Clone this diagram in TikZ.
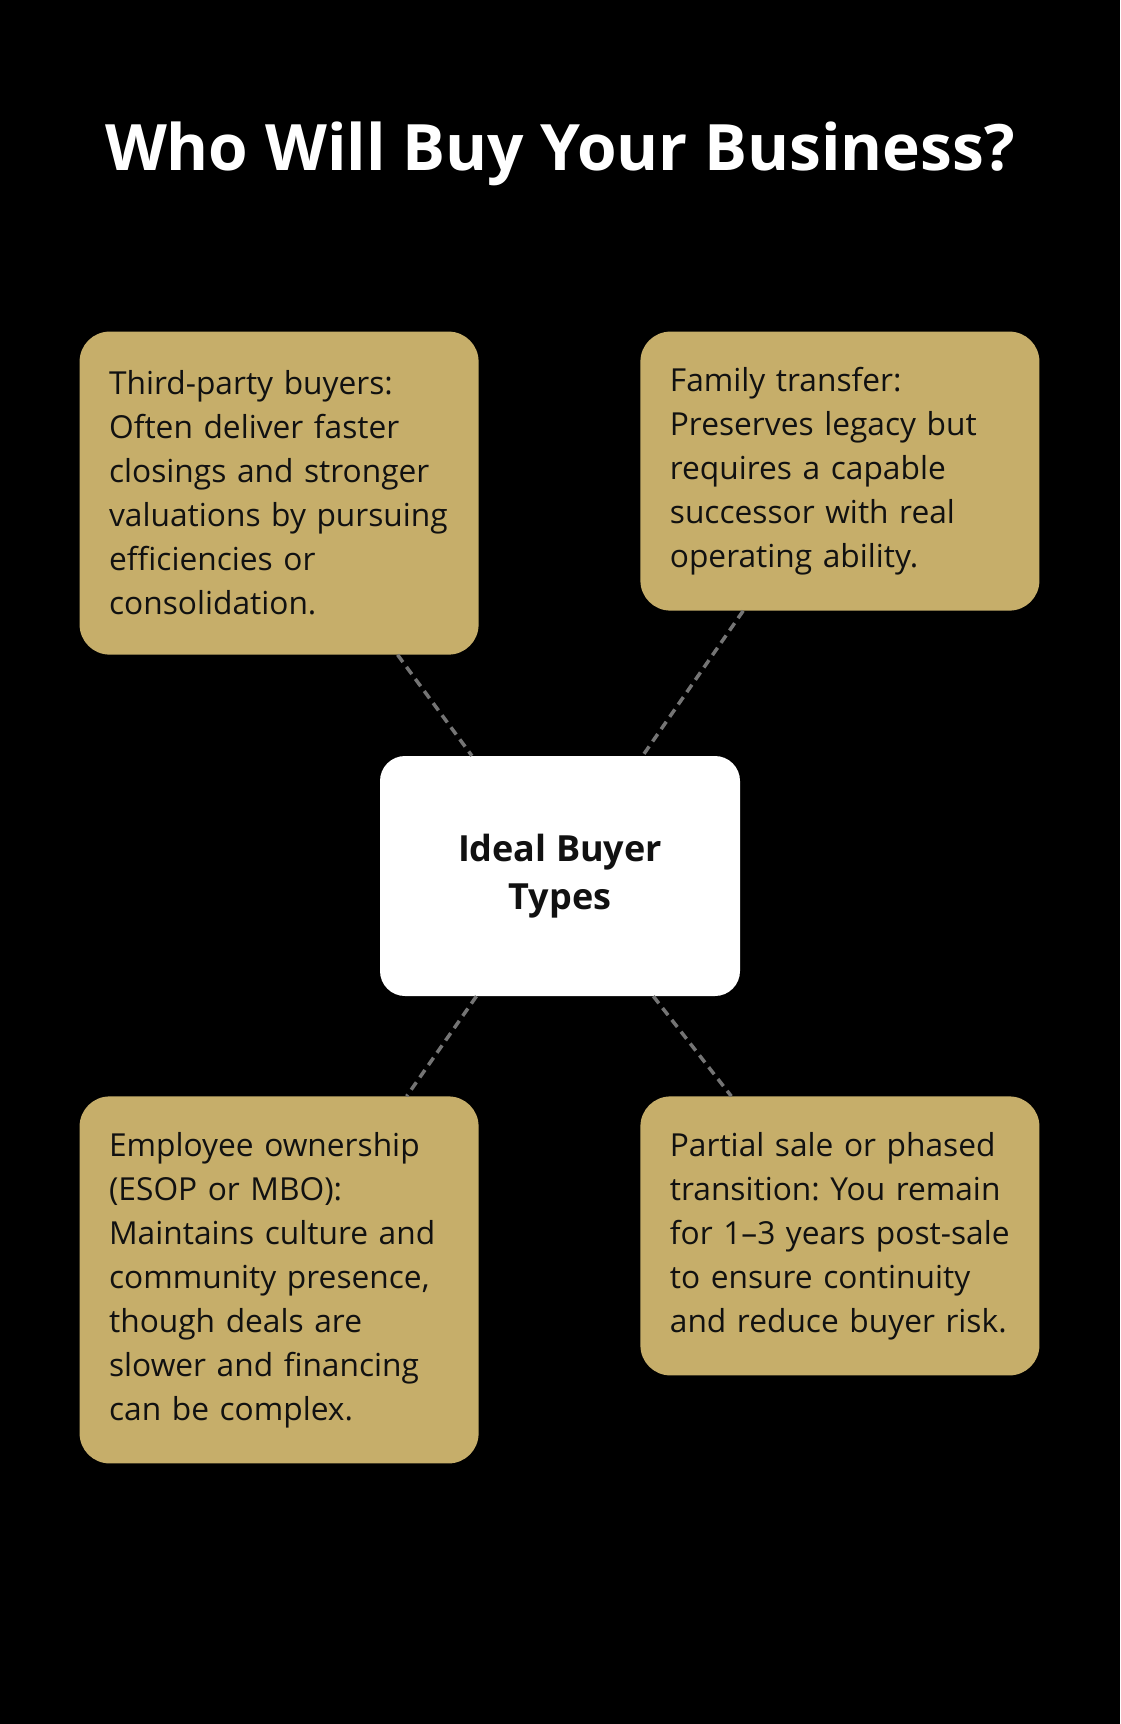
\documentclass[tikz,border=0pt]{standalone}
\usepackage{fontspec}
\setmainfont{Open Sans}
\frenchspacing
\usetikzlibrary{positioning}
\usepackage{xcolor}
\definecolor{gold}{HTML}{C6AE6A}
\definecolor{ink}{HTML}{111111}
\definecolor{link}{HTML}{747474}
\tikzset{
  every node/.style={text=ink},
  card/.style={fill=gold,rounded corners=30pt,align=left,text width=340pt,inner xsep=29.5pt,inner ysep=0pt,
    font=\fontsize{31.7}{44}\selectfont},
  hubbox/.style={fill=white,rounded corners=25pt,align=center,minimum width=360pt,minimum height=240pt,
    inner sep=0pt,font=\fontsize{36}{48}\selectfont\bfseries},
  heading/.style={text=white,font=\fontsize{64}{70}\selectfont\bfseries},
  link/.style={draw=link,line width=3.5pt,dash pattern=on 9pt off 6pt},
}
\begin{document}
\begin{tikzpicture}
\useasboundingbox (0,0) rectangle (1120pt,-1724pt);
\fill[black] (0,0) rectangle (1120pt,-1724pt);

\node[heading,anchor=base] (title) at (560pt,-170pt) {Who Will Buy Your Business?};

\node[hubbox] (hub) at (560pt,-876pt) {Ideal Buyer\\Types};

\node[card,minimum height=323pt,above left=101pt and -99pt of hub] (third) {Third-party buyers:\\Often deliver faster\\closings and stronger\\valuations by pursuing\\efficiencies or\\consolidation.};
\node[card,minimum height=279pt,above right=145pt and -100pt of hub] (family) {Family transfer:\\Preserves legacy but\\requires a capable\\successor with real\\operating ability.};
\node[card,minimum height=367pt,below left=100pt and -99pt of hub] (employee) {Employee ownership\\(ESOP or MBO):\\Maintains culture and\\community presence,\\though deals are\\slower and financing\\can be complex.};
\node[card,minimum height=279pt,below right=100pt and -100pt of hub] (partial) {Partial sale or phased\\transition: You remain\\for 1--3 years post-sale\\to ensure continuity\\and reduce buyer risk.};

\draw[link] (third) -- (hub);
\draw[link] (family) -- (hub);
\draw[link] (hub) -- (employee);
\draw[link] (hub) -- (partial);

\end{tikzpicture}
\end{document}
